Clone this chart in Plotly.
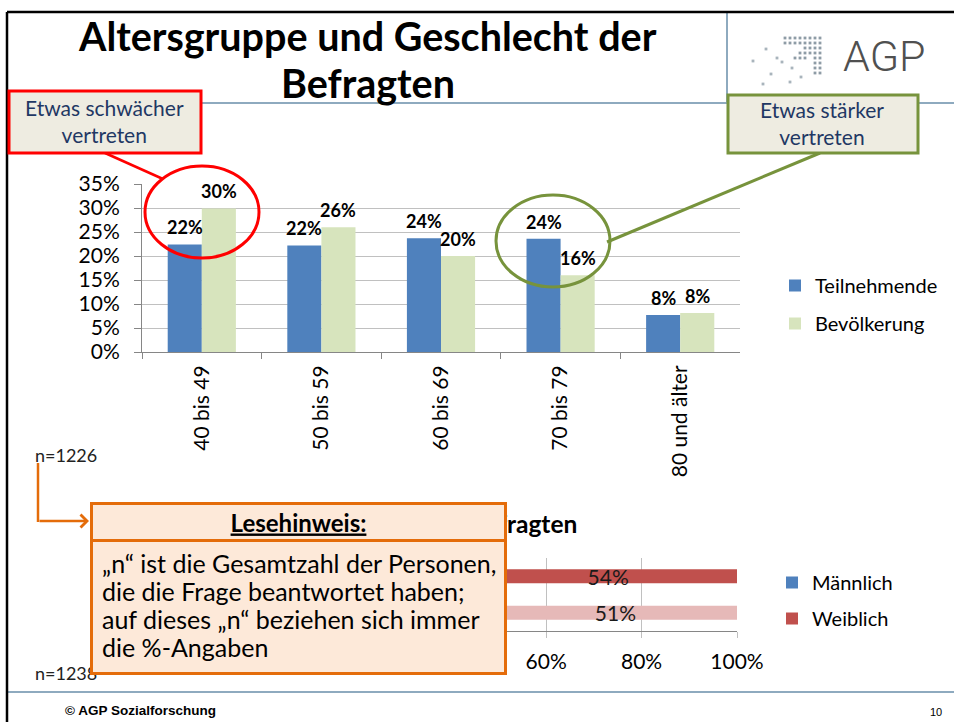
import plotly.graph_objects as go

W, H = 954, 722


def px(x):
    return x / W


def py(y):
    return 1 - y / H


FONT = "Lato, Carlito, Calibri, sans-serif"

# ---------------- data ----------------
age_groups = ["40 bis 49", "50 bis 59", "60 bis 69", "70 bis 79", "80 und älter"]
teilnehmende = [22.4, 22.2, 23.7, 23.6, 7.7]
bevoelkerung = [29.9, 26.0, 20.0, 16.0, 8.1]
age_y_ticks = [0, 5, 10, 15, 20, 25, 30, 35]
age_y_labels = ["0%", "5%", "10%", "15%", "20%", "25%", "30%", "35%"]

gender_rows = ["Teilnehmende", "Bevölkerung"]
maennlich = [46, 49]
weiblich = [54, 51]
gender_x_ticks = [0, 20, 40, 60, 80, 100]
gender_x_labels = ["0%", "20%", "40%", "60%", "80%", "100%"]

n_age = "n=1226"
n_gender = "n=1238"

# ---------------- traces ----------------
fig = go.Figure()
fig.add_trace(go.Bar(x=age_groups, y=teilnehmende, name="Teilnehmende",
                     marker=dict(color="#4F81BD", line=dict(width=0)),
                     xaxis="x", yaxis="y", legend="legend", legendgroup="t"))
fig.add_trace(go.Bar(x=age_groups, y=bevoelkerung, name="Bevölkerung",
                     marker=dict(color="#D7E4BD", line=dict(width=0)),
                     xaxis="x", yaxis="y", legend="legend", legendgroup="b"))

fig.add_trace(go.Bar(y=gender_rows, x=maennlich, orientation="h", name="Männlich",
                     marker=dict(color=["#4F81BD", "#B9CDE5"], line=dict(width=0)),
                     width=0.38, offset=-0.19, offsetgroup="g",
                     xaxis="x2", yaxis="y2", legend="legend2", legendgroup="m"))
fig.add_trace(go.Bar(y=gender_rows, x=weiblich, base=maennlich, orientation="h", name="Weiblich",
                     marker=dict(color=["#C0504D", "#E6B9B8"], line=dict(width=0)),
                     width=0.38, offset=-0.19, offsetgroup="g",
                     text=[f"{v}%" for v in weiblich], textposition="inside",
                     insidetextanchor="middle", textangle=0, constraintext="none",
                     textfont=dict(family=FONT, size=21, color="#1a1a1a"),
                     xaxis="x2", yaxis="y2", legend="legend2", legendgroup="w"))

annotations = []

# data labels of the age chart
for series, shift in ((teilnehmende, -17), (bevoelkerung, 17)):
    for cat, v in zip(age_groups, series):
        annotations.append(dict(x=cat, y=v, xref="x", yref="y", xshift=shift, yshift=17,
                                text=f"<b>{round(v)}%</b>", showarrow=False,
                                xanchor="center", yanchor="middle",
                                font=dict(family=FONT, size=18, color="#000000")))

# titles
annotations.append(dict(x=px(367), y=py(36), xref="paper", yref="paper",
                        text="<b>Altersgruppe und Geschlecht der</b>", showarrow=False,
                        xanchor="center", yanchor="middle",
                        font=dict(family=FONT, size=39.5, color="#000000")))
annotations.append(dict(x=px(368), y=py(82), xref="paper", yref="paper",
                        text="<b>Befragten</b>", showarrow=False,
                        xanchor="center", yanchor="middle",
                        font=dict(family=FONT, size=39.5, color="#000000")))

# callout texts
annotations.append(dict(x=px(104), y=py(121), xref="paper", yref="paper",
                        text="Etwas schwächer<br>vertreten", showarrow=False,
                        xanchor="center", yanchor="middle",
                        font=dict(family=FONT, size=21, color="#1F3864")))
annotations.append(dict(x=px(822), y=py(123), xref="paper", yref="paper",
                        text="Etwas stärker<br>vertreten", showarrow=False,
                        xanchor="center", yanchor="middle",
                        font=dict(family=FONT, size=21, color="#1F3864")))

# AGP logo text
annotations.append(dict(x=px(884), y=py(56), xref="paper", yref="paper",
                        text="AGP", showarrow=False, xanchor="center", yanchor="middle",
                        font=dict(family="Roboto, Liberation Sans Narrow, sans-serif",
                                  size=43, weight=300, color="#505050")))

# n annotations
annotations.append(dict(x=px(33), y=py(455), xref="paper", yref="paper",
                        text=n_age, showarrow=False, xanchor="left", yanchor="middle",
                        font=dict(family=FONT, size=18, color="#222222")))

# bottom chart title (partly hidden by the note box)
annotations.append(dict(x=px(579), y=py(523), xref="paper", yref="paper",
                        text="<b>Geschlecht der Befragten</b>", showarrow=False,
                        xanchor="right", yanchor="middle",
                        font=dict(family=FONT, size=24.5, color="#000000")))
annotations.append(dict(x=px(33), y=py(673), xref="paper", yref="paper",
                        text=n_gender, showarrow=False, xanchor="left", yanchor="middle",
                        font=dict(family=FONT, size=18, color="#222222")))

# orange arrow
annotations.append(dict(x=px(89), y=py(521), xref="paper", yref="paper",
                        ax=-51, ay=0, text="", showarrow=True, arrowhead=4,
                        arrowsize=1, arrowwidth=2.5, arrowcolor="#E46C0A", standoff=0))

# Lesehinweis box
BOX = dict(bgcolor="#FDE9D9", bordercolor="#E46C0A", borderwidth=3, borderpad=0,
           showarrow=False, xref="paper", yref="paper", xanchor="left", yanchor="top")
annotations.append(dict(x=px(90), y=py(502), width=411, height=34,
                        text="<b><u>Lesehinweis:</u></b>", valign="middle", align="center",
                        font=dict(family=FONT, size=24, color="#000000"), **BOX))
annotations.append(dict(x=px(90), y=py(539), width=411, height=130, text=" ",
                        font=dict(family=FONT, size=21, color="#000000"), **BOX))
note_lines = ["„n“ ist die Gesamtzahl der Personen,",
              "die die Frage beantwortet haben;",
              "auf dieses „n“ beziehen sich immer",
              "die %-Angaben"]
for line_text, yy in zip(note_lines, [563, 591, 619, 647]):
    annotations.append(dict(x=px(100), y=py(yy), xref="paper", yref="paper", text=line_text,
                            showarrow=False, xanchor="left", yanchor="middle",
                            font=dict(family=FONT, size=25, color="#000000")))

# footer
annotations.append(dict(x=px(63), y=py(710), xref="paper", yref="paper",
                        text="<b>© AGP Sozialforschung</b>", showarrow=False,
                        xanchor="left", yanchor="middle",
                        font=dict(family="Liberation Sans, Arial, sans-serif", size=13.5, color="#000000")))
annotations.append(dict(x=px(936), y=py(712), xref="paper", yref="paper",
                        text="10", showarrow=False, xanchor="center", yanchor="middle",
                        font=dict(family="Liberation Sans, Arial, sans-serif", size=11, color="#000000")))

# ---------------- shapes ----------------
GREY_BLUE = "#8EAABF"
shapes = []


def line(x0, y0, x1, y1, color, width):
    shapes.append(dict(type="line", xref="paper", yref="paper",
                       x0=px(x0), y0=py(y0), x1=px(x1), y1=py(y1),
                       line=dict(color=color, width=width), layer="above"))


line(7, 103, 954, 103, GREY_BLUE, 2)
line(727, 12, 727, 103, GREY_BLUE, 2)
line(7, 692, 954, 692, GREY_BLUE, 2)
line(7, 12, 954, 12, "#000000", 2.5)
line(7, 12, 7, 722, "#000000", 2.5)

# callouts
line(105, 153, 163, 179, "#FF0000", 2.5)
shapes.append(dict(type="circle", xref="paper", yref="paper",
                   x0=px(145), x1=px(259), y0=py(258), y1=py(166),
                   line=dict(color="#FF0000", width=3), layer="above"))
line(820, 153, 607, 242, "#77933C", 3)
shapes.append(dict(type="circle", xref="paper", yref="paper",
                   x0=px(496), x1=px(610), y0=py(287), y1=py(195),
                   line=dict(color="#77933C", width=3), layer="above"))
shapes.append(dict(type="rect", xref="paper", yref="paper",
                   x0=px(9), x1=px(201), y0=py(153), y1=py(91),
                   fillcolor="#EEECE1", line=dict(color="#FF0000", width=3), layer="above"))
shapes.append(dict(type="rect", xref="paper", yref="paper",
                   x0=px(728), x1=px(918), y0=py(153), y1=py(95),
                   fillcolor="#EEECE1", line=dict(color="#77933C", width=3), layer="above"))
line(38, 463, 38, 522, "#E46C0A", 2.5)

# logo dots (decoration)
logo_rows = [range(0, 8), range(0, 8), range(4, 8), range(3, 8), [2, 3, 4, 6, 7], [6, 7], [6, 7], [6, 7]]
logo_dots = []
for j, cols in enumerate(logo_rows):
    for i in cols:
        logo_dots.append((785 + 5 * i, 38 + 5 * j, "#8E9CA6"))
for (dx, dy) in [(766, 49), (753, 61), (777, 58), (782, 62), (792, 68), (771, 74),
                 (801, 77), (790, 82), (763, 84)]:
    logo_dots.append((dx, dy, "#A9B4BC"))
for dx, dy, c in logo_dots:
    shapes.append(dict(type="rect", xref="paper", yref="paper",
                       x0=px(dx - 1.4), x1=px(dx + 1.4), y0=py(dy + 1.4), y1=py(dy - 1.4),
                       fillcolor=c, line=dict(width=0), layer="above"))

# ---------------- layout ----------------
AX = "#868686"
GRID = "#C0C0C0"
fig.update_layout(
    width=W, height=H, margin=dict(l=0, r=0, t=0, b=0, autoexpand=False),
    paper_bgcolor="white", plot_bgcolor="white",
    font=dict(family=FONT, size=21, color="#000000"),
    barmode="group", bargap=0.43, bargroupgap=0,
    xaxis=dict(domain=[px(142), px(740)], anchor="y", type="category", automargin=False,
               tickangle=-90, tickfont=dict(size=21), ticks="outside", tickson="boundaries",
               ticklen=6, tickcolor=AX, showline=True, linecolor=AX, linewidth=1,
               showgrid=False, fixedrange=True, ticklabelstandoff=4),
    yaxis=dict(domain=[py(352), py(184)], anchor="x", range=[0, 35], automargin=False,
               tickmode="array", tickvals=age_y_ticks, ticktext=age_y_labels,
               tickfont=dict(size=21), ticks="outside", ticklen=7,
               tickcolor=AX, showline=True, linecolor=AX, linewidth=1,
               showgrid=True, gridcolor=GRID, gridwidth=1, zeroline=False,
               ticklabelstandoff=10),
    xaxis2=dict(domain=[px(260), px(737)], anchor="y2", range=[0, 100], automargin=False,
                tickmode="array", tickvals=gender_x_ticks, ticktext=gender_x_labels,
                tickfont=dict(size=21), ticks="outside", ticklen=6,
                tickcolor=GRID, showline=True, linecolor=AX, linewidth=1,
                showgrid=True, gridcolor=GRID, zeroline=False, ticklabelstandoff=6),
    yaxis2=dict(domain=[py(631), py(558)], anchor="x2", type="category", automargin=False,
                autorange="reversed", showline=True, linecolor=AX, ticks="",
                showticklabels=False, showgrid=False),
    legend=dict(x=px(775), y=py(266), xanchor="left", yanchor="top",
                font=dict(family=FONT, size=20), tracegroupgap=9,
                bgcolor="rgba(0,0,0,0)", traceorder="grouped"),
    legend2=dict(x=px(772), y=py(563), xanchor="left", yanchor="top",
                 font=dict(family=FONT, size=20), tracegroupgap=7,
                 bgcolor="rgba(0,0,0,0)", traceorder="grouped"),
    shapes=shapes, annotations=annotations, showlegend=True,
)

fig.write_html("out.html",
               config={"displayModeBar": False},
               post_script="document.body.style.margin='0px';"
                           "document.body.style.padding='0px';"
                           "document.body.style.overflow='hidden';")
